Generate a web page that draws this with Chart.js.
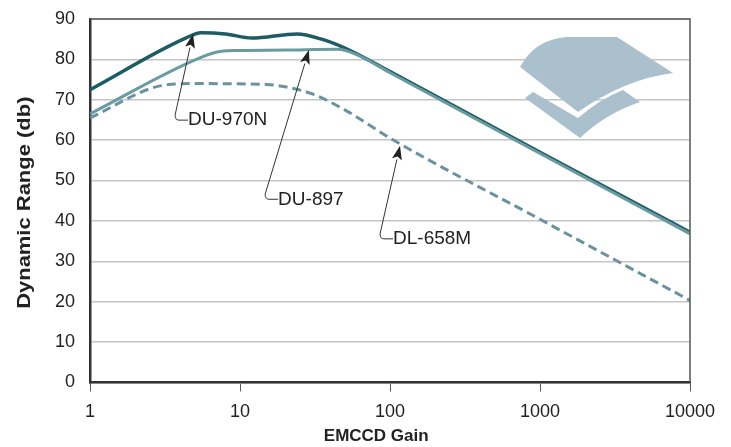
<!DOCTYPE html>
<html>
<head>
<meta charset="utf-8">
<script src="https://cdn.jsdelivr.net/npm/chart.js@4/dist/chart.umd.min.js"></script>
<style>
  html, body { margin: 0; padding: 0; background: #fff; }
  #wrap { width: 731px; height: 447px; }
</style>
</head>
<body>
<div id="wrap"><canvas id="rangeChart"></canvas></div>
<script>
// data
const xTicks = [1, 10, 100, 1000, 10000];
const yTicks = [0, 10, 20, 30, 40, 50, 60, 70, 80, 90];

const gain970 = [1, 4.3, 5.5, 8, 12, 24, 35, 50, 100, 1000, 10000];
const range970 = [72.5, 85.2, 86.6, 86.3, 85.3, 86.3, 85, 82.8, 77, 57, 37.2];

const gain897 = [1, 5.5, 7.5, 10, 20, 45, 60, 100, 1000, 10000];
const range897 = [66.5, 80.5, 82, 82.2, 82.3, 82.5, 81.2, 76.7, 56.7, 36.8];

const gain658 = [1, 3, 5, 15, 20, 30, 50, 100, 1000, 10000];
const range658 = [65.5, 73.5, 74, 73.8, 73.2, 71.5, 67.5, 60.5, 40.4, 20.3];

// callouts: arrow tip, corner, text (data coords)
const labels = ['DU-970N', 'DU-897', 'DL-658M'];
const tipX = [4.86, 28.8, 116.6];
const tipY = [86.3, 82.3, 58.6];
const cornerX = [3.69, 14.7, 85.8];
const cornerY = [65.2, 45.6, 35.8];

const yTitle = 'Dynamic Range (db)';
const xTitle = 'EMCCD Gain';
const FONT = '"Liberation Sans", Arial, sans-serif';

const toPts = (xs, ys) => xs.map((x, i) => ({ x: x, y: ys[i] }));

// Andor logo + outer box + callouts + axis titles
const decorPlugin = {
    id: 'decor',
    beforeDatasetsDraw(chart) {
        const ctx = chart.ctx;
        const a = chart.chartArea;
        const L = a.left, T = a.top;
        ctx.save();
        ctx.fillStyle = '#abc0cd';
        // upper sheet
        ctx.beginPath();
        ctx.moveTo(L + 430, T + 48);
        ctx.quadraticCurveTo(L + 445, T + 20, L + 477, T + 18);
        ctx.lineTo(L + 527, T + 18);
        ctx.lineTo(L + 583, T + 54);
        ctx.quadraticCurveTo(L + 535, T + 60, L + 488, T + 93);
        ctx.closePath();
        ctx.fill();
        // lower chevron
        ctx.beginPath();
        ctx.moveTo(L + 435, T + 79);
        ctx.lineTo(L + 443, T + 73);
        ctx.lineTo(L + 488, T + 99);
        ctx.quadraticCurveTo(L + 510, T + 80, L + 533, T + 71);
        ctx.lineTo(L + 550, T + 83);
        ctx.quadraticCurveTo(L + 515, T + 95, L + 490, T + 119);
        ctx.closePath();
        ctx.fill();
        ctx.restore();
    },
    afterDatasetsDraw(chart) {
        const ctx = chart.ctx;
        const a = chart.chartArea;
        const xs = chart.scales.x, ys = chart.scales.y;
        ctx.save();
        // frame top/right
        ctx.strokeStyle = '#555';
        ctx.lineWidth = 1.5;
        ctx.beginPath();
        ctx.moveTo(a.left, a.top);
        ctx.lineTo(a.right, a.top);
        ctx.lineTo(a.right, a.bottom);
        ctx.stroke();

        ctx.font = '19px ' + FONT;
        ctx.textBaseline = 'middle';
        labels.forEach((txt, i) => {
            const tx = xs.getPixelForValue(tipX[i]);
            const ty = ys.getPixelForValue(tipY[i]);
            const cx = xs.getPixelForValue(cornerX[i]);
            const cy = ys.getPixelForValue(cornerY[i]);
            const textX = cx + 13;
            ctx.strokeStyle = '#333';
            ctx.lineWidth = 1;
            ctx.beginPath();
            ctx.moveTo(textX, cy + 1);
            ctx.lineTo(cx + 4, cy + 1);
            ctx.quadraticCurveTo(cx, cy + 1, cx, cy - 4);
            const ang = Math.atan2(ty - (cy - 4), tx - cx);
            const hx = tx - Math.cos(ang) * 14, hy = ty - Math.sin(ang) * 14;
            ctx.lineTo(hx, hy);
            ctx.stroke();
            // arrow head
            ctx.beginPath();
            ctx.moveTo(tx, ty);
            ctx.lineTo(hx + Math.sin(ang) * 5, hy - Math.cos(ang) * 5);
            ctx.lineTo(tx - Math.cos(ang) * 11, ty - Math.sin(ang) * 11);
            ctx.lineTo(hx - Math.sin(ang) * 5, hy + Math.cos(ang) * 5);
            ctx.closePath();
            ctx.fillStyle = '#222';
            ctx.fill();
            ctx.fillText(txt, textX, cy + 1);
        });

        // x title
        ctx.fillStyle = '#222';
        ctx.textAlign = 'center';
        ctx.font = 'bold 17px ' + FONT;
        ctx.fillText(xTitle, a.left + (a.right - a.left) * 0.477, a.bottom + 54);

        // y title, a bit stretched like the original
        ctx.translate(25, (a.top + a.bottom) / 2 + 2);
        ctx.rotate(-Math.PI / 2);
        ctx.scale(1.22, 1);
        ctx.font = 'bold 18px ' + FONT;
        ctx.fillText(yTitle, 0, 0);
        ctx.restore();
    }
};

const ctx = document.getElementById('rangeChart').getContext('2d');
new Chart(ctx, {
    type: 'line',
    data: {
        datasets: [{
            label: 'DL-658M',
            data: toPts(gain658, range658),
            borderColor: '#6b929f',
            borderWidth: 3,
            borderDash: [9, 5],
            pointRadius: 0,
            cubicInterpolationMode: 'monotone'
        }, {
            label: 'DU-897',
            data: toPts(gain897, range897),
            borderColor: '#6a9ba0',
            borderWidth: 3,
            pointRadius: 0,
            cubicInterpolationMode: 'monotone'
        }, {
            label: 'DU-970N',
            data: toPts(gain970, range970),
            borderColor: '#1d5c64',
            borderWidth: 3.5,
            pointRadius: 0,
            cubicInterpolationMode: 'monotone'
        }]
    },
    options: {
        responsive: true,
        maintainAspectRatio: false,
        animation: false,
        layout: {
            padding: { top: 19, right: 41, left: 40, bottom: 14 }
        },
        plugins: {
            legend: { display: false },
            tooltip: { enabled: false }
        },
        scales: {
            x: {
                type: 'logarithmic',
                min: 1,
                max: 10000,
                afterBuildTicks: axis => {
                    axis.ticks = xTicks.map(v => ({ value: v }));
                },
                grid: {
                    drawOnChartArea: false,
                    drawTicks: true,
                    tickLength: 9,
                    color: '#555'
                },
                border: { color: '#333', width: 2.5 },
                ticks: {
                    color: '#222',
                    padding: 10,
                    maxRotation: 0,
                    font: { family: FONT, size: 18 },
                    callback: v => String(v)
                }
            },
            y: {
                min: 0,
                max: 90,
                afterBuildTicks: axis => {
                    axis.ticks = yTicks.map(v => ({ value: v }));
                },
                // let layout.padding decide the top/bottom gaps
                afterFit: axis => {
                    axis.paddingTop = 0;
                    axis.paddingBottom = 0;
                },
                grid: {
                    color: '#c4c4c4',
                    lineWidth: 1.5,
                    drawTicks: false
                },
                border: { color: '#333', width: 2.5 },
                ticks: {
                    color: '#222',
                    padding: 15,
                    font: { family: FONT, size: 18 }
                }
            }
        }
    },
    plugins: [decorPlugin]
});
</script>
</body>
</html>
